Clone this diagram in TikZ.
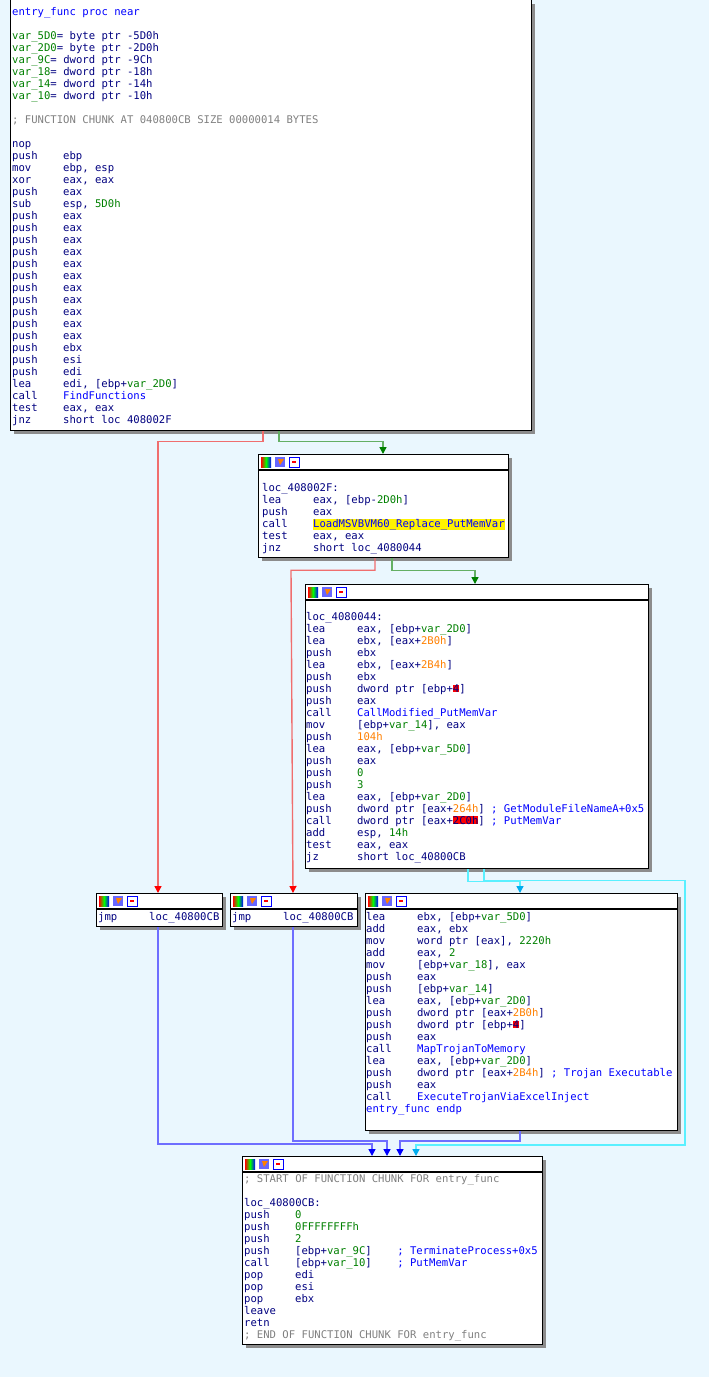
\documentclass[tikz,border=0pt]{standalone}
\usepackage{fontspec}
\setmonofont{DejaVu Sans Mono}
\usetikzlibrary{arrows.meta,calc}

\definecolor{bgblue}{RGB}{234,247,254}
\definecolor{idanavy}{RGB}{0,0,128}
\definecolor{idagreen}{RGB}{0,128,0}
\definecolor{idablue}{RGB}{0,0,255}
\definecolor{idaorange}{RGB}{255,128,0}
\definecolor{idagrey}{RGB}{128,128,128}
\definecolor{lnred}{RGB}{240,110,110}
\definecolor{lngreen}{RGB}{100,175,100}
\definecolor{lnblue}{RGB}{110,110,255}
\definecolor{lncyan}{RGB}{90,240,255}

\setlength{\fboxsep}{0pt}
\newcommand{\ins}[2]{\makebox[51pt][l]{#1}#2}
\newcommand{\vr}[1]{\textcolor{idagreen}{#1}}
\newcommand{\fn}[1]{\textcolor{idablue}{#1}}
\newcommand{\nm}[1]{\textcolor{idaorange}{#1}}
\newcommand{\cm}[1]{\textcolor{idagrey}{#1}}
\newcommand{\hlred}[1]{\colorbox{red}{#1}}

\tikzset{
  blk/.style={draw=black, line width=1.2pt, fill=white, anchor=north west, inner sep=0pt},
  code/.style={anchor=north west, inner sep=0pt, align=left, text=idanavy,
    font=\ttfamily\fontsize{10.6}{12}\selectfont},
  redE/.style={lnred, line width=1.4pt, -{Triangle[length=7pt,width=7pt,fill=red,color=red]}},
  greenE/.style={lngreen, line width=1.4pt, -{Triangle[length=7pt,width=7pt,fill=idagreen,color=idagreen]}},
  blueE/.style={lnblue, line width=1.4pt, -{Triangle[length=7pt,width=7pt,fill=idablue,color=idablue]}},
  cyanE/.style={lncyan, line width=1.4pt, -{Triangle[length=7pt,width=7pt,fill=cyan,color=cyan]}},
}

% block frame with shadow, header bar and icons
\newcommand{\idablock}[5]{%
  \fill[black!45] (#2+4,#3+4) rectangle ++(#4,#5);
  \node[blk, minimum width=#4pt, minimum height=#5pt] (#1) at (#2,#3) {};
  \draw[line width=1.2pt] ($(#1.north west)+(0,16)$) -- ($(#1.north east)+(0,16)$);
  \shade[left color=red, right color=blue, middle color=green] (#2+3,#3+3) rectangle ++(10,10);
  \fill[idablue!60] (#2+17,#3+3) rectangle ++(10,10);
  \fill[orange] (#2+20,#3+5) -- ++(6,0) -- ++(-4,6) -- cycle;
  \draw[idablue, line width=0.8pt, fill=white] (#2+31,#3+3) rectangle ++(10,10);
  \fill[red] (#2+34,#3+7) rectangle ++(4,2);
}

\begin{document}
\begin{tikzpicture}[x=1pt,y=-1pt]
\fill[bgblue] (0,0) rectangle (709,1377);
\useasboundingbox (0,0) rectangle (709,1377);

% entry block (no header)
\fill[black!45] (14,4) rectangle ++(521,430);
\node[blk, minimum width=521pt, minimum height=432pt] (b1) at (10,-2) {};
\node[code] (t1) at (12,7) {%
\fn{entry\_func proc near}\\
\mbox{}\\
\vr{var\_5D0}= byte ptr -5D0h\\
\vr{var\_2D0}= byte ptr -2D0h\\
\vr{var\_9C}= dword ptr -9Ch\\
\vr{var\_18}= dword ptr -18h\\
\vr{var\_14}= dword ptr -14h\\
\vr{var\_10}= dword ptr -10h\\
\mbox{}\\
\cm{; FUNCTION CHUNK AT 040800CB SIZE 00000014 BYTES}\\
\mbox{}\\
nop\\
\ins{push}{ebp}\\
\ins{mov}{ebp, esp}\\
\ins{xor}{eax, eax}\\
\ins{push}{eax}\\
\ins{sub}{esp, \vr{5D0h}}\\
\ins{push}{eax}\\ \ins{push}{eax}\\ \ins{push}{eax}\\ \ins{push}{eax}\\
\ins{push}{eax}\\ \ins{push}{eax}\\ \ins{push}{eax}\\ \ins{push}{eax}\\
\ins{push}{eax}\\ \ins{push}{eax}\\ \ins{push}{eax}\\
\ins{push}{ebx}\\
\ins{push}{esi}\\
\ins{push}{edi}\\
\ins{lea}{edi, [ebp+\vr{var\_2D0}]}\\
\ins{call}{\fn{FindFunctions}}\\
\ins{test}{eax, eax}\\
\ins{jnz}{short loc 408002F}};

\idablock{b2}{258}{454}{250}{103}
\node[code] (t2) at (262,483) {%
loc\_408002F:\\
\ins{lea}{eax, [ebp-\vr{2D0h}]}\\
\ins{push}{eax}\\
\ins{call}{\colorbox{yellow}{\fn{LoadMSVBVM60\_Replace\_PutMemVar}}}\\
\ins{test}{eax, eax}\\
\ins{jnz}{short loc\_4080044}};

\idablock{b3}{305}{584}{343}{284}
\node[code] (t3) at (306,612) {%
loc\_4080044:\\
\ins{lea}{eax, [ebp+\vr{var\_2D0}]}\\
\ins{lea}{ebx, [eax+\nm{2B0h}]}\\
\ins{push}{ebx}\\
\ins{lea}{ebx, [eax+\nm{2B4h}]}\\
\ins{push}{ebx}\\
\ins{push}{dword ptr [ebp+\hlred{4}]}\\
\ins{push}{eax}\\
\ins{call}{\fn{CallModified\_PutMemVar}}\\
\ins{mov}{[ebp+\vr{var\_14}], eax}\\
\ins{push}{\nm{104h}}\\
\ins{lea}{eax, [ebp+\vr{var\_5D0}]}\\
\ins{push}{eax}\\
\ins{push}{\vr{0}}\\
\ins{push}{\vr{3}}\\
\ins{lea}{eax, [ebp+\vr{var\_2D0}]}\\
\ins{push}{dword ptr [eax+\nm{264h}] \fn{; GetModuleFileNameA+0x5}}\\
\ins{call}{dword ptr [eax+\hlred{2C0h}] \fn{; PutMemVar}}\\
\ins{add}{esp, \vr{14h}}\\
\ins{test}{eax, eax}\\
\ins{jz}{short loc\_40800CB}};

\idablock{b4}{96}{893}{126}{33}
\node[code] (t4) at (98,912) {\ins{jmp}{loc\_40800CB}};
\idablock{b5}{230}{893}{127}{33}
\node[code] (t5) at (232,912) {\ins{jmp}{loc\_40800CB}};

\idablock{b6}{365}{893}{312}{237}
\node[code] (t6) at (366,912) {%
\ins{lea}{ebx, [ebp+\vr{var\_5D0}]}\\
\ins{add}{eax, ebx}\\
\ins{mov}{word ptr [eax], \vr{2220h}}\\
\ins{add}{eax, \vr{2}}\\
\ins{mov}{[ebp+\vr{var\_18}], eax}\\
\ins{push}{eax}\\
\ins{push}{[ebp+\vr{var\_14}]}\\
\ins{lea}{eax, [ebp+\vr{var\_2D0}]}\\
\ins{push}{dword ptr [eax+\nm{2B0h}]}\\
\ins{push}{dword ptr [ebp+\hlred{4}]}\\
\ins{push}{eax}\\
\ins{call}{\fn{MapTrojanToMemory}}\\
\ins{lea}{eax, [ebp+\vr{var\_2D0}]}\\
\ins{push}{dword ptr [eax+\nm{2B4h}] \fn{; Trojan Executable}}\\
\ins{push}{eax}\\
\ins{call}{\fn{ExecuteTrojanViaExcelInject}}\\
\fn{entry\_func endp}};

\idablock{b7}{242}{1156}{300}{188}
\node[code] (t7) at (244,1174) {%
\cm{; START OF FUNCTION CHUNK FOR entry\_func}\\
\mbox{}\\
loc\_40800CB:\\
\ins{push}{\vr{0}}\\
\ins{push}{\vr{0FFFFFFFFh}}\\
\ins{push}{\vr{2}}\\
\ins{push}{[ebp+\vr{var\_9C}]\ \ \ \ \fn{; TerminateProcess+0x5}}\\
\ins{call}{[ebp+\vr{var\_10}]\ \ \ \ \fn{; PutMemVar}}\\
\ins{pop}{edi}\\
\ins{pop}{esi}\\
\ins{pop}{ebx}\\
leave\\
retn\\
\cm{; END OF FUNCTION CHUNK FOR entry\_func}};

% connectors
\draw[redE] ([xshift=253pt]b1.south west) |- ++(-105,10) -- ([xshift=62pt]b4.north west);
\draw[greenE] ([xshift=269pt]b1.south west) |- ++(104,10) -- ([xshift=125pt]b2.north west);
\draw[redE] ([xshift=117pt]b2.south west) |- ++(-84,12) -- ([xshift=63pt]b5.north west);
\draw[greenE] ([xshift=134pt]b2.south west) |- ++(83,12) -- ([xshift=170pt]b3.north west);
\draw[cyanE] ([xshift=163pt]b3.south west) |- ++(52,12) -- ([xshift=155pt]b6.north west);
\draw[cyanE] ([xshift=179pt]b3.south west) |- ++(201,11) |- ([xshift=174pt,yshift=11pt]b7.north west) -- ([xshift=174pt]b7.north west);
\draw[blueE] ([xshift=62pt]b4.south west) |- ([xshift=130pt,yshift=12pt]b7.north west) -- ([xshift=130pt]b7.north west);
\draw[blueE] ([xshift=63pt]b5.south west) |- ([xshift=145pt,yshift=15pt]b7.north west) -- ([xshift=145pt]b7.north west);
\draw[blueE] ([xshift=155pt]b6.south west) |- ([xshift=158pt,yshift=15pt]b7.north west) -- ([xshift=158pt]b7.north west);
\end{tikzpicture}
\end{document}
